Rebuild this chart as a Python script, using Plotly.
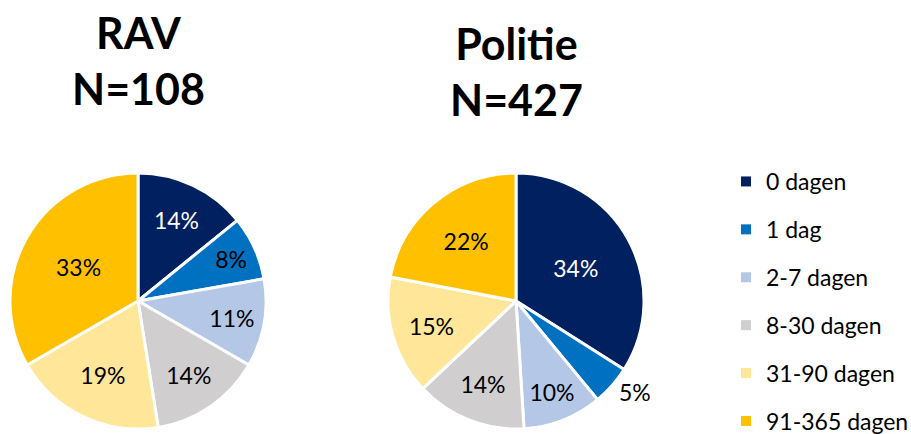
import plotly.graph_objects as go

categories = ["0 dagen", "1 dag", "2-7 dagen", "8-30 dagen", "31-90 dagen", "91-365 dagen"]
rav_values = [14, 8, 11, 14, 19, 33]
politie_values = [34, 5, 10, 14, 15, 22]
colors = ["#002060", "#0070C0", "#B4C7E7", "#D0CECE", "#FFE699", "#FFC000"]
text_colors = ["white", "black", "black", "black", "black", "black"]
rav_title = "RAV<br>N=108"
politie_title = "Politie<br>N=427"

FONT = "Lato"
W, H = 911, 434

fig = go.Figure()

def dom_x(a, b):
    return [a / W, b / W]

def dom_y(top, bottom):
    return [(H - bottom) / H, (H - top) / H]

fig.add_trace(go.Pie(
    labels=categories, values=rav_values, sort=False, direction="clockwise", rotation=0,
    marker=dict(colors=colors, line=dict(color="white", width=3)),
    texttemplate="%{value}%", textposition="inside", insidetextorientation="horizontal",
    textfont=dict(family=FONT, size=23, color=text_colors),
    domain=dict(x=dom_x(10, 266), y=dom_y(173, 429)),
    showlegend=False, hoverinfo="label+value",
))

politie_pos = ["inside", "outside", "inside", "inside", "inside", "inside"]
fig.add_trace(go.Pie(
    labels=categories, values=politie_values, sort=False, direction="clockwise", rotation=0,
    marker=dict(colors=colors, line=dict(color="white", width=3)),
    texttemplate="%{value}%", textposition=politie_pos, insidetextorientation="horizontal",
    textfont=dict(family=FONT, size=23, color=text_colors),
    outsidetextfont=dict(family=FONT, size=23, color="black"),
    domain=dict(x=dom_x(388, 644), y=dom_y(173, 429)),
    showlegend=False, hoverinfo="label+value",
))

# legend entries
for i, (cat, col) in enumerate(zip(categories, colors)):
    fig.add_trace(go.Scatter(
        x=[None], y=[None], mode="markers", name=cat,
        marker=dict(symbol="square", size=10, color=col),
        legendgroup=f"g{i}", showlegend=True,
    ))

fig.add_annotation(text="<b>" + rav_title + "</b>", x=138 / W, y=1 - 5 / H, xref="paper", yref="paper",
                   xanchor="center", yanchor="top", showarrow=False,
                   font=dict(family=FONT, size=43, color="black"))
fig.add_annotation(text="<b>" + politie_title + "</b>", x=516 / W, y=1 - 16 / H, xref="paper", yref="paper",
                   xanchor="center", yanchor="top", showarrow=False,
                   font=dict(family=FONT, size=43, color="black"))

fig.update_layout(
    width=W, height=H,
    margin=dict(l=0, r=0, t=0, b=0, autoexpand=False),
    paper_bgcolor="white", plot_bgcolor="white",
    xaxis=dict(visible=False), yaxis=dict(visible=False),
    uniformtext=dict(minsize=23, mode="show"),
    legend=dict(x=726 / W, y=1 - 160 / H, xanchor="left", yanchor="top",
                font=dict(family=FONT, size=23, color="black"),
                tracegroupgap=15, itemwidth=30, bgcolor="rgba(0,0,0,0)"),
    font=dict(family=FONT),
)

fig.write_html("out.html", config={"displayModeBar": False},
               post_script="document.body.style.margin='0';")
